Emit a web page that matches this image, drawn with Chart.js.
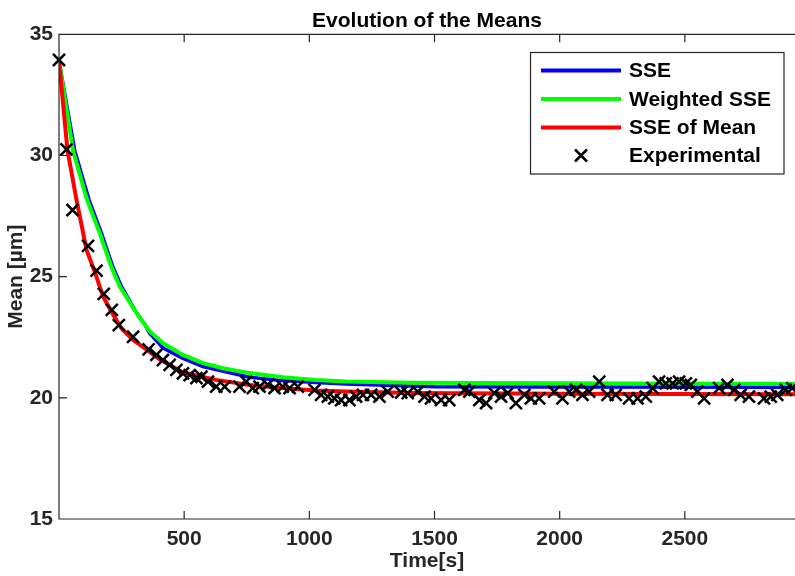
<!DOCTYPE html>
<html>
<head>
<meta charset="utf-8">
<script src="https://cdn.jsdelivr.net/npm/chart.js@4.4.1/dist/chart.umd.min.js"></script>
<style>
html, body { margin:0; padding:0; background:#fff; }
#boite { width:795px; height:576px; position:relative; }
</style>
</head>
<body>
<div id="boite"><canvas id="graphe"></canvas></div>
<script>
// Valeurs
var expT = [0,30,54,116,150,179,211,239,296,358,389,415,442,469,495,522,549,569,595,628,
  662,721,748,774,801,834,861,894,921,954,1021,1047,1074,1100,1127,1160,1187,1214,1247,1280,
  1313,1367,1393,1433,1460,1486,1526,1559,1619,1639,1679,1706,1739,1766,1792,1825,1859,1885,1918,1978,
  2011,2038,2065,2091,2118,2158,2191,2224,2277,2311,2344,2371,2397,2424,2451,2477,2504,2524,2550,2577,
  2637,2670,2697,2723,2756,2816,2843,2869,2903,2929];
var expV = [33.94,30.25,27.75,26.27,25.25,24.29,23.63,23.0,22.52,22.0,21.77,21.56,21.36,21.15,21.01,20.94,20.81,20.87,20.67,20.46,
  20.46,20.46,20.67,20.40,20.46,20.53,20.40,20.46,20.40,20.46,20.33,20.12,20.05,19.98,19.91,19.91,20.05,20.12,20.12,20.05,
  20.26,20.22,20.19,20.26,20.05,19.98,19.91,19.91,20.33,20.26,19.91,19.78,20.19,20.05,20.19,19.78,20.12,19.98,19.98,20.26,
  19.98,20.26,20.33,20.12,20.26,20.67,20.12,20.12,19.98,19.98,20.05,20.40,20.67,20.60,20.60,20.67,20.60,20.53,20.26,19.98,
  20.40,20.53,20.33,20.12,20.05,19.98,20.05,20.12,20.33,20.40];

var sseT = [0,63,120,170,215,250,310,345,362,416,495,575,761,894,1027,1147,1500,2000,2940];
var sseV = [33.9,30.2,28.17,26.79,25.41,24.59,23.5,23.0,22.66,22.05,21.63,21.29,20.85,20.71,20.63,20.57,20.46,20.45,20.44];

var wsseT = [0,56,112,163,209,243,302,330,362,416,495,575,655,761,894,1027,1147,1400,2000,2940];
var wsseV = [33.9,30.2,28.17,26.79,25.41,24.59,23.63,23.2,22.75,22.25,21.77,21.43,21.22,21.02,20.85,20.74,20.67,20.62,20.6,20.57];

var meanT = [0,34,70,110,143,176,209,249,296,349,400,495,628,761,894,1027,1147,1400,2000,2940];
var meanV = [33.9,30.2,28.17,26.1,25.2,24.18,23.56,22.87,22.39,22.0,21.6,21.05,20.74,20.53,20.4,20.3,20.26,20.2,20.17,20.15];

var xTicks = [500,1000,1500,2000,2500];
var yTicks = [15,20,25,30,35];
var titre = "Evolution of the Means";

var encre = "#262626";
var police = "'Liberation Sans', Arial, Helvetica, sans-serif";

function points(t, v) {
  return t.map(function(x, i){ return {x:x, y:v[i]}; });
}

// cadre + graduations vers l'interieur (style matlab) + titre centre sur la zone du graphe
var cadre = {
  id: 'cadre',
  afterDraw: function(chart) {
    var ctx = chart.ctx, a = chart.chartArea;
    var xs = chart.scales.x, ys = chart.scales.y;
    ctx.save();
    ctx.strokeStyle = encre;
    ctx.lineWidth = 1.2;
    ctx.beginPath();
    ctx.moveTo(a.right, a.top); ctx.lineTo(a.left, a.top);
    ctx.lineTo(a.left, a.bottom); ctx.lineTo(a.right, a.bottom);
    xs.ticks.forEach(function(t){
      var px = xs.getPixelForValue(t.value);
      ctx.moveTo(px, a.bottom); ctx.lineTo(px, a.bottom - 8);
      ctx.moveTo(px, a.top); ctx.lineTo(px, a.top + 8);
    });
    ys.ticks.forEach(function(t){
      var py = ys.getPixelForValue(t.value);
      ctx.moveTo(a.left, py); ctx.lineTo(a.left + 8, py);
    });
    ctx.stroke();
    ctx.fillStyle = '#000';
    ctx.font = "bold 21px " + police;
    ctx.textAlign = 'center';
    ctx.textBaseline = 'alphabetic';
    ctx.fillText(titre, (a.left + a.right) / 2, 26.5);
    ctx.restore();
  }
};

var legende = {
  id: 'legende',
  afterDraw: function(chart) {
    var ctx = chart.ctx;
    var ordre = [3, 2, 1, 0];
    var lignesY = [70.5, 99, 127.5, 155.5];
    ctx.save();
    ctx.fillStyle = '#fff';
    ctx.fillRect(530.5, 52.5, 253.5, 121.5);
    ctx.strokeStyle = encre;
    ctx.lineWidth = 1.2;
    ctx.strokeRect(530.5, 52.5, 253.5, 121.5);
    ctx.font = "bold 21px " + police;
    ctx.textBaseline = 'middle';
    ctx.textAlign = 'left';
    ordre.forEach(function(k, i){
      var ds = chart.data.datasets[k];
      var y = lignesY[i];
      if (ds.showLine === false) {
        ctx.strokeStyle = '#000';
        ctx.lineWidth = 2.5;
        ctx.beginPath();
        ctx.moveTo(575, y - 6); ctx.lineTo(587, y + 6);
        ctx.moveTo(575, y + 6); ctx.lineTo(587, y - 6);
        ctx.stroke();
      } else {
        ctx.strokeStyle = ds.borderColor;
        ctx.lineWidth = 4;
        ctx.beginPath();
        ctx.moveTo(541, y); ctx.lineTo(621, y);
        ctx.stroke();
      }
      ctx.fillStyle = '#000';
      ctx.fillText(ds.label, 629, y + 1);
    });
    ctx.restore();
  }
};

var policeAxe = { family: police, size: 21, weight: 'bold' };

new Chart(document.getElementById("graphe"), {
  type: 'line',
  data: {
    datasets: [{
        label: "Experimental",
        data: points(expT, expV),
        showLine: false,
        pointStyle: 'crossRot',
        pointRadius: 8.5,
        pointBorderWidth: 2.5,
        borderColor: "#000000",
        backgroundColor: "#000000",
        clip: false,
        order: 0
      }, {
        label: "SSE of Mean",
        data: points(meanT, meanV),
        borderColor: "#ff0000",
        borderWidth: 4,
        pointRadius: 0,
        fill: false,
        order: 1
      }, {
        label: "Weighted SSE",
        data: points(wsseT, wsseV),
        borderColor: "#00ff00",
        borderWidth: 4,
        pointRadius: 0,
        fill: false,
        order: 2
      }, {
        label: "SSE",
        data: points(sseT, sseV),
        borderColor: "#0000ff",
        borderWidth: 3.5,
        pointRadius: 0,
        fill: false,
        order: 3
      }
    ]
  },
  options: {
    responsive: true,
    maintainAspectRatio: false,
    animation: false,
    layout: { autoPadding: false, padding: { top: 34.3, right: 0, left: 0, bottom: 0 } },
    plugins: {
      legend: { display: false },
      tooltip: { enabled: false },
      title: { display: false }
    },
    scales: {
      x: {
        type: 'linear',
        min: 0,
        max: 2940,
        grid: { display: false, drawTicks: false },
        border: { display: false },
        ticks: {
          color: encre, font: policeAxe, padding: 8, maxRotation: 0, autoSkip: false, includeBounds: false,
          callback: function(v){ return String(v); }
        },
        afterBuildTicks: function(s){ s.ticks = xTicks.map(function(v){ return {value:v}; }); },
        afterFit: function(s){ s.height = 57; s.paddingLeft = 0; s.paddingRight = 0; },
        title: { display: true, text: 'Time[s]', color: encre, font: policeAxe, padding: { top: 0, bottom: 2.5 } }
      },
      y: {
        min: 15,
        max: 35,
        grid: { display: false, drawTicks: false },
        border: { display: false },
        ticks: { color: encre, font: policeAxe, padding: 6, callback: function(v){ return String(v); } },
        afterBuildTicks: function(s){ s.ticks = yTicks.map(function(v){ return {value:v}; }); },
        afterFit: function(s){ s.width = 59; s.paddingTop = 0; s.paddingBottom = 0; },
        title: { display: true, text: 'Mean [µm]', color: encre, font: policeAxe, padding: { top: 3.5, bottom: 0 } }
      }
    }
  },
  plugins: [cadre, legende]
});
</script>
</body>
</html>
